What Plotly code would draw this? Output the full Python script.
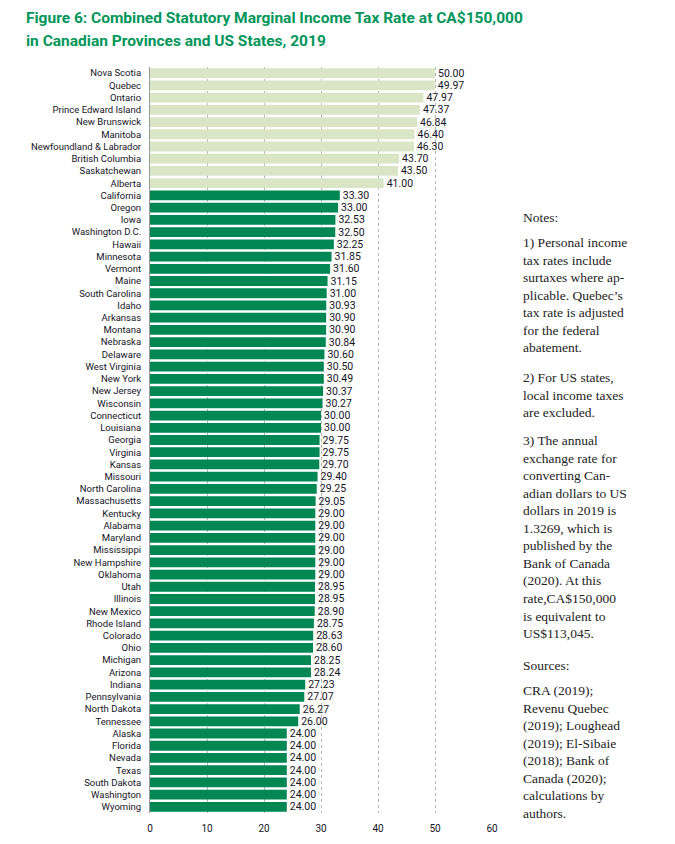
import plotly.graph_objects as go

provinces = ["Nova Scotia", "Quebec", "Ontario", "Prince Edward Island", "New Brunswick",
             "Manitoba", "Newfoundland & Labrador", "British Columbia", "Saskatchewan", "Alberta"]
province_rates = [50.00, 49.97, 47.97, 47.37, 46.84, 46.40, 46.30, 43.70, 43.50, 41.00]

states = ["California", "Oregon", "Iowa", "Washington D.C.", "Hawaii", "Minnesota", "Vermont",
          "Maine", "South Carolina", "Idaho", "Arkansas", "Montana", "Nebraska", "Delaware",
          "West Virginia", "New York", "New Jersey", "Wisconsin", "Connecticut", "Louisiana",
          "Georgia", "Virginia", "Kansas", "Missouri", "North Carolina", "Massachusetts",
          "Kentucky", "Alabama", "Maryland", "Mississippi", "New Hampshire", "Oklahoma", "Utah",
          "Illinois", "New Mexico", "Rhode Island", "Colorado", "Ohio", "Michigan", "Arizona",
          "Indiana", "Pennsylvania", "North Dakota", "Tennessee", "Alaska", "Florida", "Nevada",
          "Texas", "South Dakota", "Washington", "Wyoming"]
state_rates = [33.30, 33.00, 32.53, 32.50, 32.25, 31.85, 31.60, 31.15, 31.00, 30.93, 30.90,
               30.90, 30.84, 30.60, 30.50, 30.49, 30.37, 30.27, 30.00, 30.00, 29.75, 29.75,
               29.70, 29.40, 29.25, 29.05, 29.00, 29.00, 29.00, 29.00, 29.00, 29.00, 28.95,
               28.95, 28.90, 28.75, 28.63, 28.60, 28.25, 28.24, 27.23, 27.07, 26.27, 26.00,
               24.00, 24.00, 24.00, 24.00, 24.00, 24.00, 24.00]

x_ticks = [0, 10, 20, 30, 40, 50, 60]

title_lines = ["Figure 6: Combined Statutory Marginal Income Tax Rate at CA$150,000",
               "in Canadian Provinces and US States, 2019"]
notes_blocks = [
    ("Notes:", 217),
    ("1) Personal income<br>tax rates include<br>surtaxes where ap-<br>plicable. Quebec’s<br>"
     "tax rate is adjusted<br>for the federal<br>abatement.", 242),
    ("2) For US states,<br>local income taxes<br>are excluded.", 377),
    ("3) The annual<br>exchange rate for<br>converting Can-<br>adian dollars to US<br>"
     "dollars in 2019 is<br>1.3269, which is<br>published by the<br>Bank of Canada<br>"
     "(2020). At this<br>rate,CA$150,000<br>is equivalent to<br>US$113,045.", 440),
    ("Sources:", 665),
    ("CRA (2019);<br>Revenu Quebec<br>(2019); Loughead<br>(2019); El-Sibaie<br>(2018); Bank of<br>"
     "Canada (2020);<br>calculations by<br>authors.", 690),
]

# page body adds an 8px offset; figure coordinates = reference pixels - 8
OFF = 8
W, H = 675 - OFF, 844 - OFF
L, T = 150 - OFF, 67 - OFF
plot_w, plot_h = 342, 746
R = W - L - plot_w
B = H - T - plot_h

label_font = "Roboto, Liberation Sans, sans-serif"
ink = "#14141e"

all_cats = provinces + states

fig = go.Figure()
fig.add_trace(go.Bar(
    y=provinces, x=province_rates, orientation="h",
    marker=dict(color="#d9e5c4", line=dict(width=0)),
    text=province_rates, texttemplate="%{x:.2f}", textposition="outside",
    constraintext="none",
    textfont=dict(family=label_font, size=10.5, color=ink),
    cliponaxis=False, showlegend=False,
))
fig.add_trace(go.Bar(
    y=states, x=state_rates, orientation="h",
    marker=dict(color="#008754", line=dict(width=0)),
    text=state_rates, texttemplate="%{x:.2f}", textposition="outside",
    constraintext="none",
    textfont=dict(family=label_font, size=10.5, color=ink),
    cliponaxis=False, showlegend=False,
))

fig.update_layout(
    width=W, height=H,
    margin=dict(l=L, r=R, t=T, b=B, autoexpand=False),
    paper_bgcolor="white", plot_bgcolor="white",
    bargap=0.2,
    font=dict(family=label_font, size=10, color=ink),
    xaxis=dict(range=[0, 60], tickvals=x_ticks, ticktext=[str(v) for v in x_ticks],
               showgrid=True, gridcolor="#b5b5b5", griddash="dot", gridwidth=1,
               zeroline=False, showline=False, ticks="outside", ticklen=6,
               tickcolor="rgba(0,0,0,0)",
               tickfont=dict(family=label_font, size=10, color=ink)),
    yaxis=dict(autorange="reversed", showgrid=False, zeroline=False,
               tickmode="array", tickvals=all_cats, ticktext=all_cats,
               showline=True, linecolor="#9a9a9a", linewidth=1,
               ticks="outside", ticklen=6, tickcolor="rgba(0,0,0,0)",
               tickfont=dict(family=label_font, size=9.5, color=ink)),
)

for i, line in enumerate(title_lines):
    fig.add_annotation(
        text="<b>" + line + "</b>", xref="paper", yref="paper",
        x=(24 - OFF - L) / plot_w, y=(H - B - (18 + 23 * i - OFF)) / plot_h,
        xanchor="left", yanchor="middle", align="left", showarrow=False,
        font=dict(family="Roboto, Liberation Sans, sans-serif", size=15.5, color="#00965a"),
    )

for text, ypx in notes_blocks:
    fig.add_annotation(
        text=text, xref="paper", yref="paper",
        x=(521 - OFF - L) / plot_w, y=(H - B - (ypx - OFF) + 9) / plot_h,
        xanchor="left", yanchor="top", align="left", showarrow=False,
        font=dict(family="Liberation Serif, Times New Roman, serif", size=13.5, color="#222222"),
    )

fig.write_html("out.html")
